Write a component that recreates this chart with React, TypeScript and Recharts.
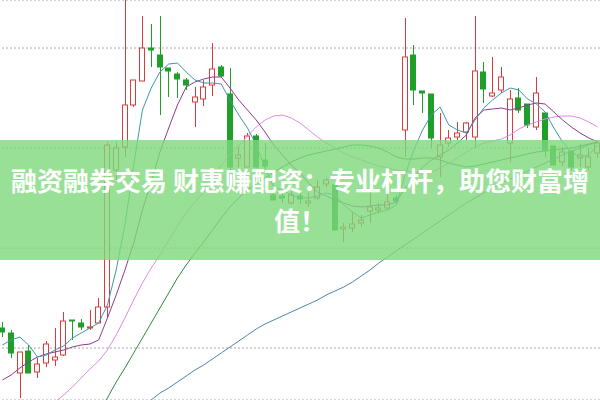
import { ComposedChart, Bar, Line, XAxis, YAxis, CartesianGrid } from 'recharts';

// price per candle (left to right)
const opens = [10.20, 10.15, 9.75, 9.97, 9.76, 9.85, 9.88, 9.93, 10.28, 10.25, 10.20, 10.25, 10.41, 11.78, 12.01, 12.43, 12.67, 13.00, 12.93, 12.80, 12.74, 12.68, 12.46, 12.49, 12.63, 12.81, 12.54, 11.90, 11.81, 12.12, 11.88, 11.53, 11.52, 11.45, 11.52, 11.45, 11.50, 11.64, 11.63, 11.19, 11.20, 11.25, 11.37, 11.38, 11.40, 11.50, 12.18, 12.93, 12.57, 12.54, 11.91, 12.05, 12.11, 12.16, 12.11, 12.76, 12.52, 12.58, 12.05, 12.50, 12.44, 12.21, 12.35, 12.02, 11.86, 11.97, 11.90, 11.81, 11.95];
const closes = [10.16, 9.95, 9.96, 9.75, 9.84, 10.04, 9.91, 10.27, 10.27, 10.21, 10.21, 10.41, 12.03, 12.00, 12.43, 12.68, 13.00, 12.98, 12.81, 12.77, 12.69, 12.63, 12.51, 12.61, 12.79, 12.72, 11.81, 11.93, 12.12, 11.81, 11.82, 11.48, 11.50, 11.53, 11.49, 11.47, 11.61, 11.68, 11.18, 11.21, 11.24, 11.28, 11.41, 11.40, 11.46, 11.47, 12.91, 12.58, 12.55, 12.10, 12.03, 12.10, 12.15, 12.25, 12.77, 12.59, 12.55, 12.71, 12.49, 12.38, 12.23, 12.55, 11.98, 11.83, 11.96, 11.81, 11.93, 11.91, 12.05];
const highs = [10.26, 10.18, 9.96, 10.03, 9.90, 10.07, 10.20, 10.36, 10.28, 10.29, 10.38, 10.50, 12.06, 12.06, 13.48, 12.68, 13.32, 13.24, 13.32, 12.80, 12.76, 12.70, 12.61, 12.68, 13.05, 12.83, 12.80, 12.01, 12.15, 12.14, 12.05, 11.63, 11.58, 11.58, 11.55, 11.55, 11.68, 11.70, 11.65, 11.25, 11.36, 11.33, 11.58, 11.45, 11.55, 11.53, 13.30, 13.03, 12.57, 12.54, 12.35, 12.18, 12.26, 12.26, 13.32, 12.86, 12.91, 12.81, 12.58, 12.60, 12.44, 12.71, 12.35, 12.02, 12.01, 11.97, 12.04, 12.00, 12.08];
const lows = [10.11, 9.90, 9.50, 9.75, 9.70, 9.81, 9.82, 9.92, 10.08, 10.18, 10.18, 10.25, 10.30, 11.68, 11.91, 12.41, 12.67, 12.81, 12.33, 12.51, 12.50, 12.58, 12.21, 12.42, 12.52, 12.71, 11.78, 11.81, 11.81, 11.80, 11.80, 11.48, 11.45, 11.43, 11.44, 11.41, 11.48, 11.61, 11.17, 11.06, 11.16, 11.21, 11.25, 11.35, 11.38, 11.43, 11.91, 12.43, 12.35, 12.00, 11.71, 12.01, 12.08, 12.08, 12.00, 12.45, 12.51, 12.55, 11.86, 12.35, 12.20, 12.18, 11.91, 11.83, 11.82, 11.78, 11.81, 11.78, 11.90];

// moving average lines
const ma5 = [10.03, 10.08, 10.11, 10.03, 9.91, 9.93, 9.98, 10.02, 10.10, 10.15, 10.20, 10.25, 10.43, 10.78, 11.23, 11.83, 12.38, 12.60, 12.76, 12.84, 12.85, 12.76, 12.68, 12.65, 12.65, 12.64, 12.48, 12.33, 12.20, 12.03, 11.80, 11.61, 11.58, 11.53, 11.50, 11.50, 11.52, 11.55, 11.53, 11.43, 11.36, 11.30, 11.33, 11.36, 11.38, 11.43, 11.73, 11.98, 12.18, 12.33, 12.41, 12.23, 12.18, 12.15, 12.28, 12.40, 12.48, 12.55, 12.60, 12.58, 12.49, 12.44, 12.36, 12.20, 12.06, 11.96, 11.91, 11.93, 12.03];
const ma10 = [9.68, 9.73, 9.80, 9.86, 9.91, 9.94, 9.96, 9.98, 10.01, 10.03, 10.04, 10.08, 10.30, 10.53, 10.78, 11.05, 11.38, 11.66, 11.96, 12.20, 12.43, 12.61, 12.66, 12.69, 12.71, 12.71, 12.60, 12.48, 12.38, 12.28, 12.16, 12.03, 11.93, 11.83, 11.75, 11.65, 11.56, 11.52, 11.48, 11.45, 11.42, 11.41, 11.42, 11.43, 11.43, 11.46, 11.60, 11.70, 11.81, 11.88, 11.93, 11.98, 12.05, 12.13, 12.30, 12.38, 12.39, 12.40, 12.38, 12.40, 12.43, 12.45, 12.44, 12.36, 12.28, 12.21, 12.15, 12.10, 12.06];
const ma20 = [null, null, null, null, 9.29, 9.38, 9.46, 9.53, 9.61, 9.70, 9.79, 9.87, 9.98, 10.13, 10.30, 10.48, 10.65, 10.80, 10.93, 11.08, 11.22, 11.35, 11.46, 11.56, 11.70, 11.83, 11.93, 12.02, 12.12, 12.21, 12.28, 12.32, 12.33, 12.30, 12.25, 12.18, 12.11, 12.05, 12.00, 11.95, 11.91, 11.88, 11.85, 11.82, 11.80, 11.78, 11.77, 11.76, 11.75, 11.76, 11.80, 11.85, 11.90, 11.96, 12.01, 12.05, 12.07, 12.09, 12.13, 12.19, 12.23, 12.26, 12.29, 12.31, 12.32, 12.32, 12.30, 12.26, 12.21];
const ma30 = [null, null, null, null, null, null, null, null, null, null, null, 9.37, 9.50, 9.66, 9.80, 9.95, 10.10, 10.25, 10.40, 10.55, 10.70, 10.83, 10.95, 11.06, 11.18, 11.30, 11.41, 11.50, 11.58, 11.64, 11.70, 11.76, 11.81, 11.86, 11.90, 11.93, 11.95, 11.97, 11.99, 12.01, 12.03, 12.03, 12.02, 12.00, 11.96, 11.91, 11.89, 11.89, 11.90, 11.90, 11.88, 11.85, 11.83, 11.81, 11.82, 11.84, 11.86, 11.88, 11.90, 11.92, 11.94, 11.96, 11.97, 11.98, 11.99, 12.00, 12.02, 12.04, 12.06];
const ma60 = [null, null, null, null, null, null, null, null, null, null, null, null, null, null, null, null, 9.42, 9.48, 9.55, 9.60, 9.66, 9.72, 9.78, 9.83, 9.89, 9.95, 10.01, 10.07, 10.13, 10.19, 10.24, 10.28, 10.32, 10.36, 10.40, 10.44, 10.48, 10.53, 10.57, 10.61, 10.66, 10.72, 10.78, 10.85, 10.91, 10.97, 11.03, 11.09, 11.15, 11.21, 11.27, 11.33, 11.39, 11.45, 11.50, 11.55, 11.60, 11.65, 11.69, 11.73, 11.77, 11.81, 11.85, 11.89, 11.93, 11.97, 12.00, 12.03, 12.06];

const priceTicks = [10, 11, 12, 13];

const UP = '#dc3a3c';
const DOWN = '#1f9e2a';

const data = opens.map((o, i) => ({
  day: `D${i + 1}`,
  open: o,
  close: closes[i],
  high: highs[i],
  low: lows[i],
  ma5: ma5[i],
  ma10: ma10[i],
  ma20: ma20[i],
  ma30: ma30[i],
  ma60: ma60[i],
}));

function Candle(props: any) {
  const { x, y, width, height, payload } = props;
  if (!payload || height == null) return null;
  const { open, close, high, low } = payload;
  const ratio = height / (high - low || 1);
  const top = y + (high - Math.max(open, close)) * ratio;
  let bot = y + (high - Math.min(open, close)) * ratio;
  if (bot - top < 1) bot = top + 1;
  const up = close >= open;
  const color = up ? UP : DOWN;
  const cx = Math.round(x + width / 2) + 0.5;
  const left = Math.round(x) + 0.5;
  const w = Math.round(width) - 1;
  return (
    <g>
      <line x1={cx} x2={cx} y1={y} y2={top} stroke={color} strokeWidth={1} />
      <line x1={cx} x2={cx} y1={bot} y2={y + height} stroke={color} strokeWidth={1} />
      <rect
        x={left}
        y={top}
        width={w}
        height={bot - top}
        fill={up ? '#fff' : color}
        stroke={color}
        strokeWidth={1}
      />
    </g>
  );
}

export default function App() {
  return (
    <div style={{ position: 'fixed', left: 0, top: 0, width: 600, height: 400, overflow: 'hidden', background: '#fff' }}>
      <div style={{ position: 'absolute', left: -2.4, top: 0 }}>
        <ComposedChart width={604} height={400} data={data} margin={{ top: 0, right: 0, bottom: 0, left: 0 }}>
          <CartesianGrid vertical={false} stroke="#a8a8a8" strokeDasharray="2 2" />
          <XAxis dataKey="day" hide />
          <YAxis hide domain={[9.48, 13.48]} ticks={priceTicks} allowDataOverflow />
          <Line dataKey="ma60" stroke="#4d86a8" strokeWidth={1} dot={false} activeDot={false} isAnimationActive={false} />
          <Line dataKey="ma30" stroke="#2f8a3c" strokeWidth={1} dot={false} activeDot={false} isAnimationActive={false} />
          <Line dataKey="ma20" stroke="#e08ae2" strokeWidth={1} dot={false} activeDot={false} isAnimationActive={false} />
          <Bar dataKey={(d: any) => [d.low, d.high]} barSize={6} shape={<Candle />} activeBar={false} isAnimationActive={false} />
          <Line dataKey="ma10" stroke="#8e3a90" strokeWidth={1} dot={false} activeDot={false} isAnimationActive={false} />
          <Line dataKey="ma5" stroke="#3a9aa8" strokeWidth={1} dot={false} activeDot={false} isAnimationActive={false} />
        </ComposedChart>
      </div>
      <div
        style={{
          position: 'absolute',
          left: 0,
          top: 140,
          width: 600,
          height: 120,
          background: 'rgba(126, 216, 124, 0.8)',
          display: 'flex',
          alignItems: 'center',
          justifyContent: 'center',
          textAlign: 'center',
          color: '#fff',
          fontFamily: '"Noto Sans CJK SC", "Noto Sans", sans-serif',
          fontWeight: 700,
          fontSize: 26,
          lineHeight: '40px',
        }}
      >
        融资融券交易 财惠赚配资：专业杠杆，助您财富增值！
      </div>
    </div>
  );
}
